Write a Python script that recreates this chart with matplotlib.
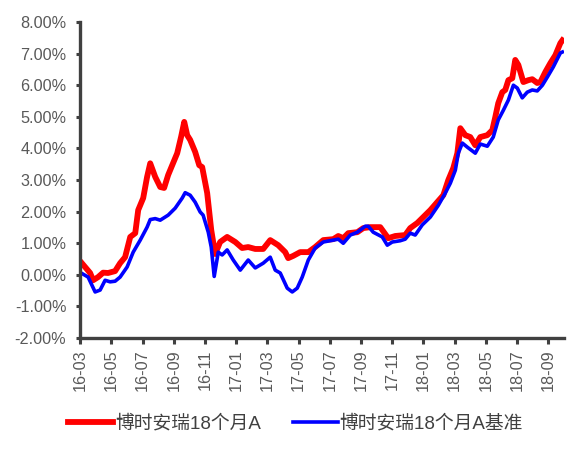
import matplotlib
matplotlib.use("Agg")
import matplotlib.pyplot as plt
from matplotlib.ticker import FuncFormatter

plt.rcParams['font.family'] = ['Liberation Sans', 'Noto Sans CJK SC', 'DejaVu Sans']

# months elapsed since 2016-03, cumulative return in %
fund_t = [0.11, 0.64, 0.83, 1.15, 1.47, 1.79, 2.24, 2.56, 2.88, 3.21, 3.53, 3.72, 4.04, 4.29,
          4.49, 4.81, 5.13, 5.38, 5.64, 5.90, 6.22, 6.47, 6.67, 6.86, 7.05, 7.37, 7.63, 7.82,
          8.14, 8.40, 8.65, 8.97, 9.42, 9.94, 10.38, 10.77, 11.22, 11.73, 12.18, 12.69, 13.14,
          13.33, 13.65, 14.10, 14.62, 15.06, 15.58, 16.22, 16.54, 16.86, 17.18, 17.76, 18.14,
          18.59, 19.23, 19.74, 20.19, 20.83, 21.15, 21.60, 21.99, 22.44, 22.88, 23.27, 23.59,
          23.91, 24.17, 24.36, 24.68, 25.00, 25.32, 25.64, 26.09, 26.41, 26.60, 26.79, 27.05,
          27.24, 27.44, 27.69, 27.88, 28.08, 28.40, 28.72, 28.97, 29.29, 29.49, 29.81, 30.13,
          30.45, 30.77, 30.90]
fund_v = [0.37, 0.06, -0.17, -0.07, 0.07, 0.06, 0.12, 0.37, 0.56, 1.20, 1.32, 2.05, 2.43, 3.10,
          3.53, 3.10, 2.78, 2.75, 3.16, 3.47, 3.85, 4.37, 4.84, 4.42, 4.27, 3.89, 3.47, 3.41,
          2.59, 1.42, 0.66, 1.04, 1.20, 1.04, 0.85, 0.88, 0.82, 0.82, 1.10, 0.94, 0.72,
          0.53, 0.60, 0.72, 0.72, 0.88, 1.10, 1.13, 1.23, 1.16, 1.32, 1.35, 1.48,
          1.51, 1.51, 1.16, 1.23, 1.26, 1.48, 1.64, 1.83, 2.05, 2.30, 2.52, 3.00,
          3.38, 3.85, 4.64, 4.42, 4.36, 4.10, 4.36, 4.42, 4.58, 4.99, 5.43, 5.78,
          5.85, 6.16, 6.22, 6.80, 6.64, 6.10, 6.16, 6.19, 6.07, 6.10, 6.42, 6.70,
          6.95, 7.33, 7.42]

bench_t = [0.06, 0.51, 0.96, 1.28, 1.60, 1.92, 2.24, 2.56, 3.01, 3.40, 3.85, 4.29, 4.49, 4.81,
           5.13, 5.64, 6.09, 6.54, 6.73, 7.05, 7.37, 7.69, 7.88, 8.21, 8.40, 8.59, 8.85, 9.10,
           9.42, 9.81, 10.26, 10.77, 11.22, 11.73, 12.18, 12.50, 12.82, 13.27, 13.59, 13.91,
           14.23, 14.62, 15.06, 15.58, 16.22, 16.54, 16.86, 17.31, 17.76, 18.27, 18.46, 18.78,
           19.36, 19.68, 20.00, 20.51, 20.83, 21.15, 21.47, 21.92, 22.44, 22.95, 23.40, 23.72,
           24.04, 24.23, 24.49, 24.81, 25.32, 25.64, 26.09, 26.47, 26.79, 27.12, 27.44, 27.76,
           28.01, 28.33, 28.65, 28.97, 29.29, 29.62, 29.94, 30.32, 30.77, 30.90]
bench_v = [0.06, -0.07, -0.54, -0.48, -0.17, -0.22, -0.20, -0.07, 0.25, 0.72, 1.10, 1.51, 1.75, 1.78,
           1.73, 1.89, 2.11, 2.43, 2.60, 2.52, 2.30, 1.99, 1.89, 1.35, 0.88, -0.05, 0.72, 0.63,
           0.79, 0.47, 0.15, 0.47, 0.22, 0.37, 0.56, 0.15, 0.06, -0.42, -0.54, -0.42,
           -0.07, 0.47, 0.85, 1.04, 1.10, 1.13, 1.00, 1.26, 1.35, 1.54, 1.54, 1.35,
           1.20, 0.94, 1.04, 1.08, 1.13, 1.32, 1.26, 1.58, 1.83, 2.20, 2.59, 2.90,
           3.31, 3.85, 4.17, 4.04, 3.85, 4.14, 4.07, 4.36, 4.90, 5.21, 5.53, 6.00,
           5.91, 5.60, 5.78, 5.85, 5.82, 6.00, 6.26, 6.58, 7.02, 7.05]

tick_labels = ['16-03', '16-05', '16-07', '16-09', '16-11', '17-01', '17-03', '17-05',
               '17-07', '17-09', '17-11', '18-01', '18-03', '18-05', '18-07', '18-09']
y_ticks = [-2, -1, 0, 1, 2, 3, 4, 5, 6, 7, 8]

fig = plt.figure(figsize=(5.85, 4.49), dpi=100)
ax = fig.add_axes([0.137, 0.247, 0.827, 0.704])

ax.plot(fund_t, fund_v, color='#ff0000', lw=4.2, label='博时安瑞18个月A', solid_joinstyle='round')
ax.plot(bench_t, bench_v, color='#0000ff', lw=2.6, label='博时安瑞18个月A基准', solid_joinstyle='round')

ax.set_xlim(0, 31.0)
ax.set_ylim(-2, 8)
ax.set_xticks(range(0, 2 * len(tick_labels), 2))
ax.set_xticklabels(tick_labels, rotation=90)
ax.set_yticks(y_ticks)
ax.yaxis.set_major_formatter(FuncFormatter(lambda v, p: f'{v:.2f}%'))

for s in ['top', 'right']:
    ax.spines[s].set_visible(False)
for s in ['left', 'bottom']:
    ax.spines[s].set_color('#404040')
    ax.spines[s].set_linewidth(2.4)
ax.tick_params(axis='both', colors='#404040', width=2.2, labelsize=11.7, labelcolor='#595959')
ax.tick_params(axis='y', length=3, pad=7)
ax.tick_params(axis='x', length=4, pad=4)

handles, labels = ax.get_legend_handles_labels()
fig.legend(handles, labels, loc='lower center', bbox_to_anchor=(0.505, 0.0), ncol=2,
           frameon=False, fontsize=13.5, handlelength=2.4, handletextpad=0.1,
           columnspacing=1.7, labelcolor='#404040')

fig.savefig('out.png', dpi=100)
